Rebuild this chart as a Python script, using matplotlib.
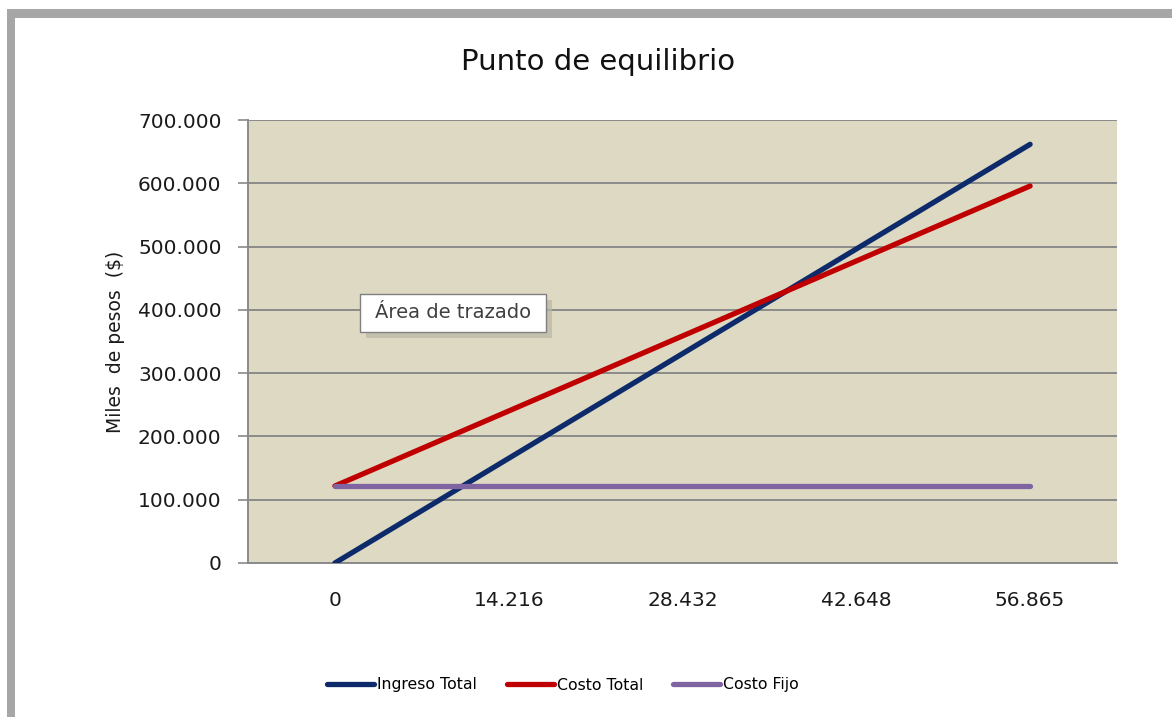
import matplotlib.pyplot as plt
from matplotlib.patches import Rectangle
from matplotlib.ticker import FuncFormatter

plt.rcParams['font.family'] = ['DejaVu Sans']

# Data (miles de pesos)
unidades = ['0', '14.216', '28.432', '42.648', '56.865']
ingreso_total = [0, 165400, 330800, 496200, 661600]
costo_total = [121700, 240200, 358700, 477200, 595700]
costo_fijo = [121700, 121700, 121700, 121700, 121700]

W, H = 1172, 717
fig = plt.figure(figsize=(W / 100, H / 100), dpi=100)
ax = fig.add_axes([248 / W, 1 - 563 / H, 869 / W, 443 / H])


def px_rect(x0, y0, x1, y1, **kw):
    # rectangle given in image pixel coords (origin top-left)
    return Rectangle((x0 / W, 1 - y1 / H), (x1 - x0) / W, (y1 - y0) / H,
                     transform=fig.transFigure, **kw)


# gray window frame on the top and left edges
fig.patches.append(px_rect(7, 9, W, 18, facecolor='#a6a6a6', edgecolor='none'))
fig.patches.append(px_rect(7, 9, 15, H, facecolor='#a6a6a6', edgecolor='none'))

x = range(len(unidades))
ax.set_facecolor('#ddd9c3')
ax.plot(x, ingreso_total, color='#0d2a6b', lw=3.8, label='Ingreso Total', solid_capstyle='round', zorder=3)
ax.plot(x, costo_total, color='#c00000', lw=3.8, label='Costo Total', solid_capstyle='round', zorder=3)
ax.plot(x, costo_fijo, color='#8064a2', lw=3.8, label='Costo Fijo', solid_capstyle='round', zorder=3)

ax.set_xlim(-0.5, 4.5)
ax.set_ylim(0, 700000)
ax.set_yticks(range(0, 700001, 100000))
ax.yaxis.set_major_formatter(FuncFormatter(lambda v, p: '0' if v == 0 else f'{int(v):,}'.replace(',', '.')))
ax.set_xticks(list(x))
ax.set_xticklabels(unidades)
ax.grid(axis='y', color='#8a8a8a', lw=1.4)
ax.set_axisbelow(True)

for s in ['top', 'right']:
    ax.spines[s].set_visible(False)
for s in ['left', 'bottom']:
    ax.spines[s].set_color('#8a8a8a')
    ax.spines[s].set_linewidth(1.4)

ax.tick_params(axis='y', length=7, color='#8a8a8a', width=1.2, labelsize=14.5, pad=12, labelcolor='#1a1a1a')
ax.tick_params(axis='x', length=0, labelsize=14.5, pad=20, labelcolor='#1a1a1a')

ax.set_ylabel('Miles  de pesos  ($)', fontsize=13.5, labelpad=9, color='#1a1a1a')
fig.text(598 / W, 1 - 62 / H, 'Punto de equilibrio', fontsize=21, ha='center', va='center', color='#111111')

# "Área de trazado" tooltip with a soft shadow
fig.patches.append(px_rect(366, 300, 552, 338, facecolor='#b9b6a4', edgecolor='none', alpha=0.7))
fig.patches.append(px_rect(360, 294, 546, 332, facecolor='white', edgecolor='#808080', lw=1))
fig.text(453 / W, 1 - 313 / H, 'Área de trazado', fontsize=14, color='#404040', ha='center', va='center')

fig.legend(loc='center', bbox_to_anchor=(563 / W, 1 - 685 / H), ncol=3, frameon=False,
           fontsize=11.3, handlelength=3.0, handletextpad=0.2, columnspacing=1.9)

fig.savefig('out.png', dpi=100)
